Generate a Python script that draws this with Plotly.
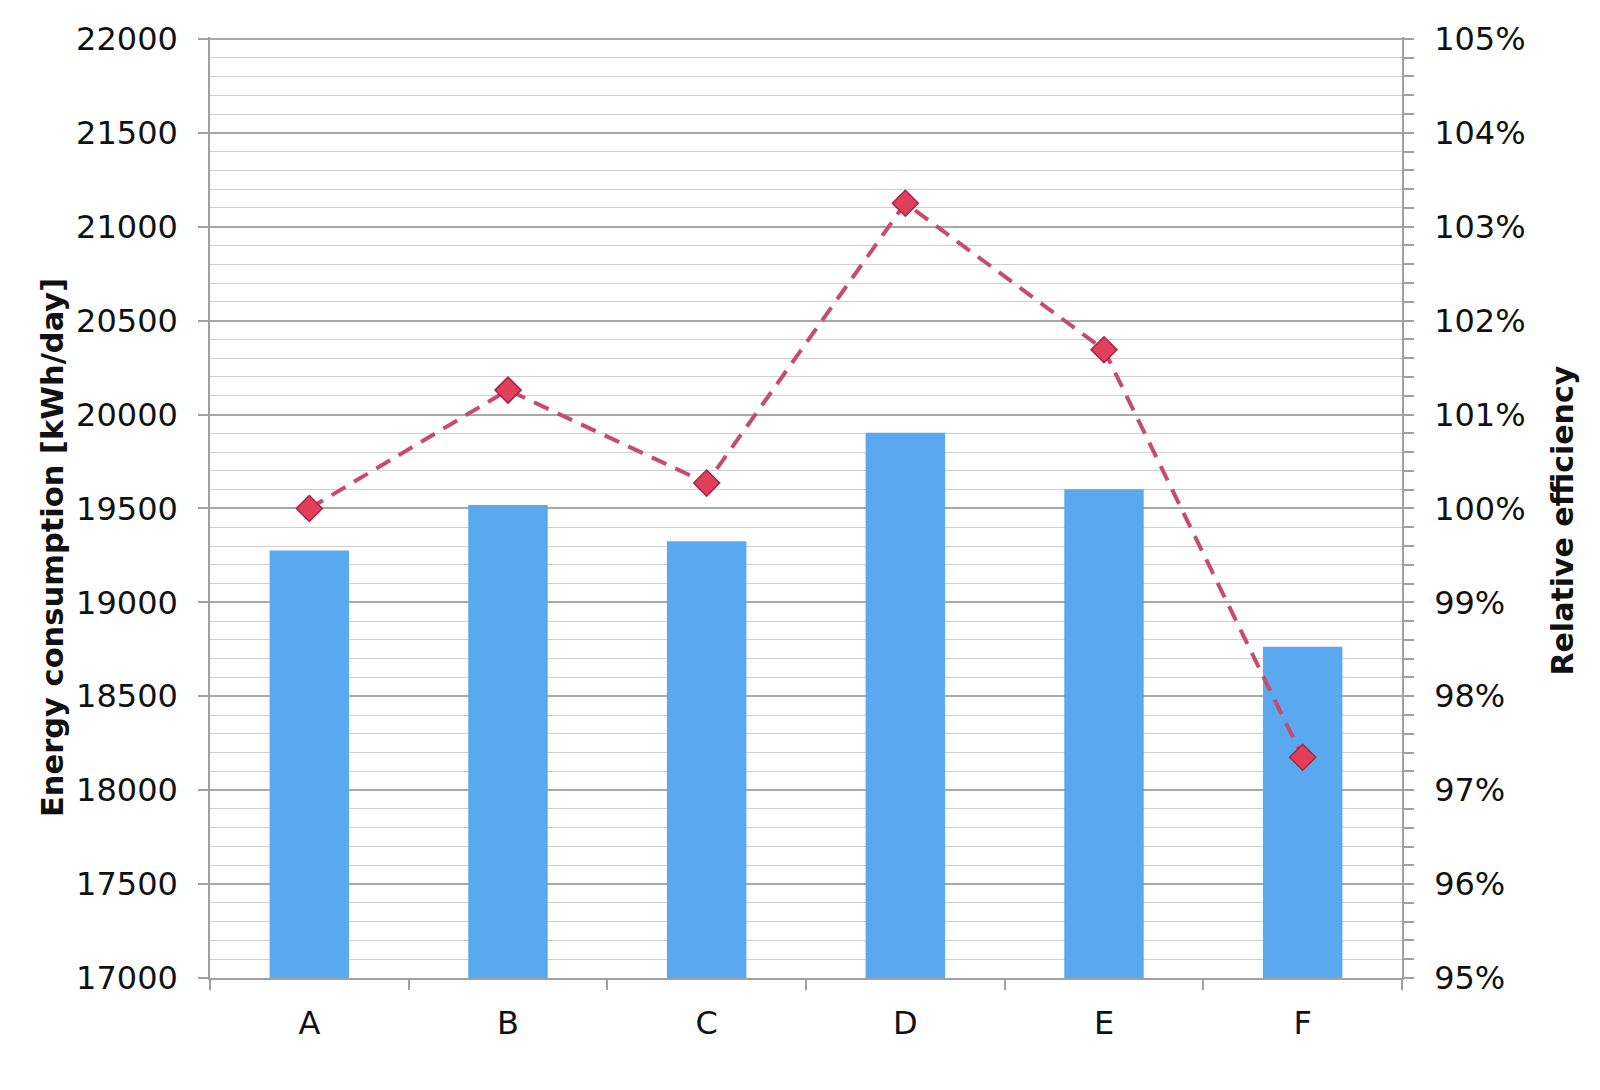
import plotly.graph_objects as go

categories = ["A", "B", "C", "D", "E", "F"]
energy = [19276, 19518, 19325, 19903, 19602, 18764]
efficiency = [100.0, 101.26, 100.27, 103.25, 101.69, 97.35]

left_title = "Energy consumption [kWh/day]"
right_title = "Relative efficiency"

FONT = "DejaVu Sans"

fig = go.Figure()
fig.add_trace(go.Bar(
    x=categories, y=energy, marker=dict(color="#5aa8f0", line=dict(width=0)),
    width=0.4, yaxis="y", showlegend=False,
))
fig.add_trace(go.Scatter(
    x=categories, y=efficiency, yaxis="y2", mode="lines+markers",
    line=dict(color="#c94b6b", width=4, dash="16px,10px"),
    marker=dict(symbol="diamond", size=20, color="#e0405c",
                line=dict(color="#a82440", width=1.5)),
    showlegend=False,
))

fig.update_layout(
    width=1592, height=1082,
    margin=dict(l=202, r=198, t=24, b=112),
    paper_bgcolor="white", plot_bgcolor="white",
    font=dict(family=FONT, size=32, color="#111111"),
    xaxis=dict(
        type="category", tickson="boundaries", ticks="outside", ticklen=10,
        tickwidth=1.5, tickcolor="#a0a0a0", showline=True, linecolor="#a0a0a0",
        linewidth=1.5, showgrid=False, ticklabelstandoff=16,
        tickfont=dict(family=FONT, size=32, color="#111111"),
    ),
    yaxis=dict(
        range=[17000, 22010], tickvals=[17000, 17500, 18000, 18500, 19000, 19500,
                                        20000, 20500, 21000, 21500, 22000],
        ticks="outside", ticklen=10,
        tickwidth=1.5, tickcolor="#a0a0a0", showline=True, linecolor="#a0a0a0",
        linewidth=1.5, showgrid=True, gridcolor="#a8a8a8", gridwidth=1.7,
        zeroline=False, ticklabelstandoff=14, tickformat="d",
        minor=dict(dtick=100, tick0=17000, showgrid=True, gridcolor="#cfcfcf",
                   gridwidth=1.3, ticks=""),
        tickfont=dict(family=FONT, size=32, color="#111111"),
    ),
    yaxis2=dict(
        overlaying="y", side="right", range=[95, 105.02], dtick=1, tick0=95,
        ticksuffix="%", ticks="outside", ticklen=10, tickwidth=1.5,
        tickcolor="#a0a0a0", showline=True, linecolor="#a0a0a0", linewidth=1.5,
        showgrid=False, zeroline=False, ticklabelstandoff=14,
        minor=dict(dtick=0.2, tick0=95, ticks="outside", ticklen=10, tickwidth=1.5,
                   tickcolor="#a0a0a0", showgrid=False),
        tickfont=dict(family=FONT, size=32, color="#111111"),
    ),
    annotations=[
        dict(text=left_title, textangle=-90, xref="paper", yref="paper",
             x=-0.1320, y=0.4576, xanchor="center", yanchor="middle",
             showarrow=False, font=dict(family=FONT, size=30.5, color="#111111",
                                        weight="bold")),
        dict(text=right_title, textangle=-90, xref="paper", yref="paper",
             x=1.135, y=0.486, xanchor="center", yanchor="middle",
             showarrow=False, font=dict(family=FONT, size=30, color="#111111",
                                        weight="bold")),
    ],
)

fig.write_html("out.html")
